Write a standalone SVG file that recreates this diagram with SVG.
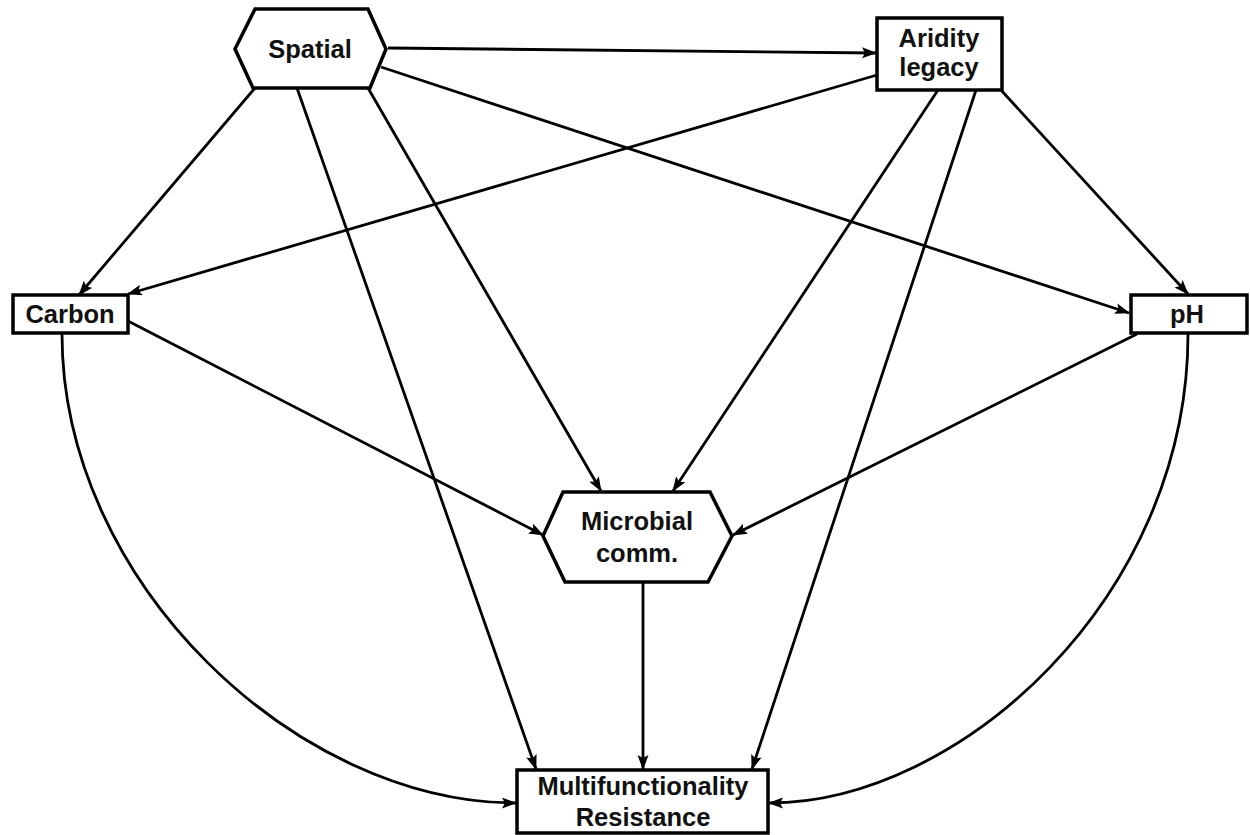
<svg xmlns="http://www.w3.org/2000/svg" width="1250" height="835" viewBox="0 0 1250 835">
<style>
.node{fill:#fff;stroke:#000;stroke-width:3.5;stroke-linejoin:miter}
.lbl{font-family:"Liberation Sans",Arial,sans-serif;font-weight:bold;font-size:25.5px;fill:#111;text-anchor:middle}
.edge{fill:none;stroke:#000;stroke-width:2.8;marker-end:url(#ah)}
</style>
<defs>
<marker id="ah" markerUnits="userSpaceOnUse" markerWidth="15" markerHeight="12" refX="14" refY="5.5" orient="auto">
<path d="M0,0 L15,5.5 L0,11 L3,5.5 Z" fill="#000"/>
</marker>
</defs>
<rect width="1250" height="835" fill="#fff"/>
<g id="connectors">
<line class="edge" x1="388" y1="48" x2="876" y2="53"/>
<line class="edge" x1="381" y1="67" x2="1129" y2="313"/>
<line class="edge" x1="255" y1="88" x2="79" y2="295"/>
<line class="edge" x1="297" y1="88" x2="536" y2="769"/>
<line class="edge" x1="368" y1="88" x2="601" y2="491"/>
<line class="edge" x1="877" y1="75" x2="128" y2="294"/>
<line class="edge" x1="938" y1="90" x2="673" y2="491"/>
<line class="edge" x1="976" y1="90" x2="752" y2="769"/>
<line class="edge" x1="1000" y1="89" x2="1188" y2="294"/>
<line class="edge" x1="1137" y1="334" x2="733" y2="535"/>
<line class="edge" x1="128" y1="321" x2="543" y2="535"/>
<line class="edge" x1="643" y1="583" x2="643" y2="769"/>
<path class="edge" d="M62,334 C62,583 297,803 516,803"/>
<path class="edge" d="M1188,334 C1188,597 960,803 769,803"/>
</g>
<g id="spatial">
<polygon class="node" points="255,9 368,9 386,49 370,88 253,88 235,49"/>
<text class="lbl" x="310" y="58">Spatial</text>
</g>
<g id="aridity">
<rect class="node" x="877" y="18" width="125" height="72"/>
<text class="lbl" x="939" y="47">Aridity</text>
<text class="lbl" x="939" y="76">legacy</text>
</g>
<g id="carbon">
<rect class="node" x="13" y="295" width="115" height="38"/>
<text class="lbl" x="70" y="323">Carbon</text>
</g>
<g id="ph">
<rect class="node" x="1131" y="295" width="116" height="38"/>
<text class="lbl" x="1187" y="323">pH</text>
</g>
<g id="microbial">
<polygon class="node" points="563,492 710,492 732,536 708,582 565,582 543,536"/>
<text class="lbl" x="637" y="530">Microbial</text>
<text class="lbl" x="637" y="562">comm.</text>
</g>
<g id="multifunctionality">
<rect class="node" x="517" y="770" width="251" height="63"/>
<text class="lbl" x="643" y="795">Multifunctionality</text>
<text class="lbl" x="643" y="826">Resistance</text>
</g>
</svg>
